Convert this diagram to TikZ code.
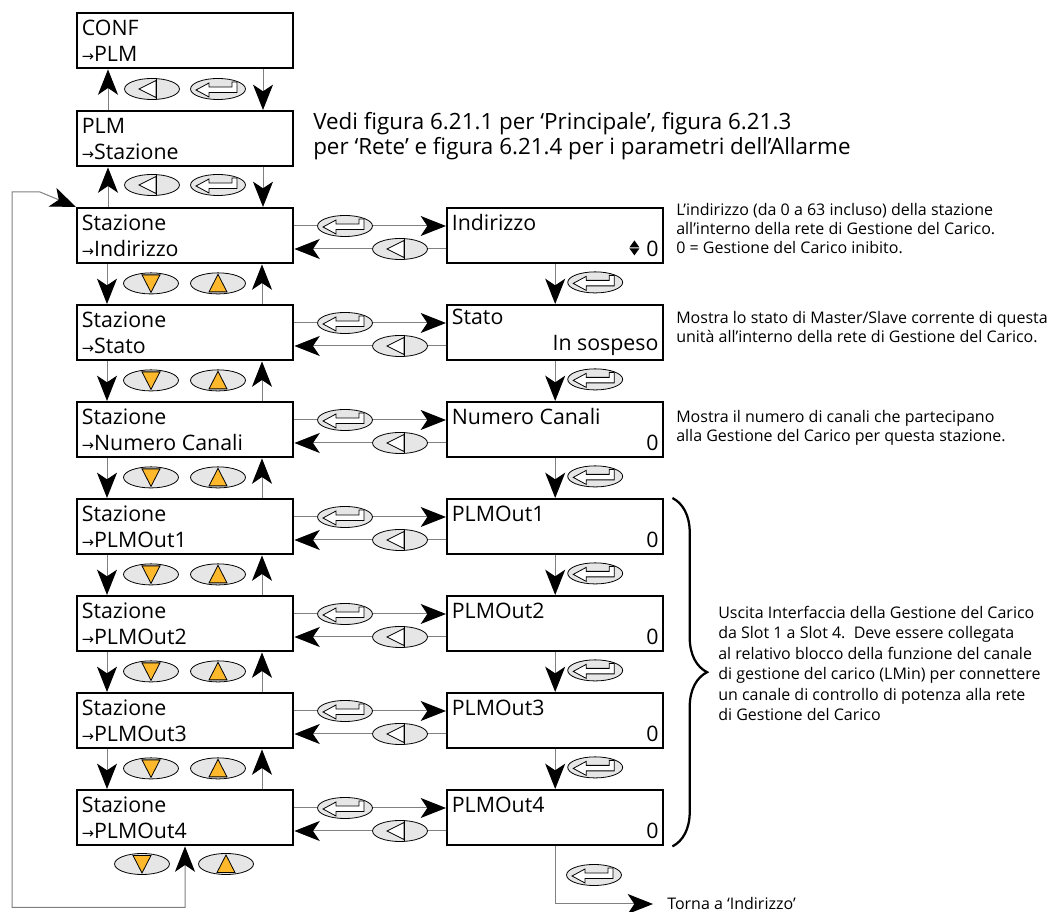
\documentclass[tikz,border=0pt]{standalone}
\usepackage{fontspec}
\setmainfont{Open Sans}
\newfontfamily\arrowfont{DejaVu Sans}
\usetikzlibrary{positioning, arrows.meta, calc, decorations.pathreplacing}
\definecolor{tasto}{HTML}{E6E6E6}
\definecolor{giallo}{HTML}{FDB92B}
\definecolor{linea}{HTML}{808080}
\newcommand{\freccia}{{\arrowfont\fontsize{11}{12}\selectfont →}}

\tikzset{
  schermo/.style={draw, line width=1.8pt, anchor=north west, minimum height=41.25pt,
    text width=155pt, inner xsep=3.5pt, inner ysep=0pt, align=flush left,
    font=\fontsize{16}{19.5}\selectfont},
  collegamento/.style={draw=linea, line width=0.75pt},
  punta/.style={-{Stealth[length=19pt, width=15pt, inset=5pt, color=black]}},
  nota/.style={anchor=base west, inner sep=0pt, align=left,
    font=\fontsize{12}{14.6}\selectfont},
  graffa/.style={decorate, decoration={brace, amplitude=26pt}, line width=1.7pt},
  invio/.pic={
    \draw[fill=tasto, line width=0.6pt] (0,0) ellipse (20.6pt and 7.9pt);
    \draw[fill=white, line width=0.6pt] (-22,1) -- (-9,-6) -- (-9,-2) -- (14,-2)
      -- (14,-7) -- (19,-7) -- (19,3.5) -- (-9,3.5) -- (-9,8) -- cycle;
  },
  indietro/.pic={
    \draw[fill=tasto, line width=0.6pt] (0,0) ellipse (20.6pt and 7.9pt);
    \draw[fill=white, line width=0.6pt] (-13,0) -- (4,-8.5) -- (4,8.5) -- cycle;
    \draw[line width=0.6pt] (4,-10.2) -- (4,10.2);
  },
  giu/.pic={
    \draw[fill=tasto, line width=0.6pt] (0,0) ellipse (20.6pt and 7.9pt);
    \draw[fill=giallo, line width=0.6pt] (-9,-8.5) -- (9,-8.5) -- (0,9) -- cycle;
  },
  su/.pic={
    \draw[fill=tasto, line width=0.6pt] (0,0) ellipse (20.6pt and 7.9pt);
    \draw[fill=giallo, line width=0.6pt] (0,-9) -- (9,8.5) -- (-9,8.5) -- cycle;
  },
}

\begin{document}
\begin{tikzpicture}[x=0.75pt, y=-0.75pt]
\useasboundingbox (0,0) rectangle (1058,912);

\node[schermo] (conf) at (76,12) {CONF\\\freccia PLM};
\node[schermo] (plm) at (76,110) {PLM\\\freccia Stazione};
\node[anchor=base west, inner sep=0pt, align=left, font=\fontsize{16.8}{18.75}\selectfont]
  (vedi) at (313,155) {Vedi figura 6.21.1 per ‘Principale’, figura 6.21.3\\per ‘Rete’ e figura 6.21.4 per i parametri dell’Allarme};

\foreach \voce/\valore [count=\i] in {Indirizzo/0, Stato/In sospeso, Numero Canali/0,
    PLMOut1/0, PLMOut2/0, PLMOut3/0, PLMOut4/0}{
  \pgfmathsetmacro{\riga}{207+97*(\i-1)}
  \node[schermo] (s\i) at (76,\riga) {Stazione\\\freccia\voce};
  \node[schermo] (r\i) at (446,\riga) {\voce\\\mbox{}\hfill\valore\hspace*{3pt}};
  \draw[collegamento, punta] ($(s\i.north east)+(0,19)$) -- ($(r\i.north west)+(0,19)$);
  \draw[collegamento, punta] ($(r\i.north west)+(0,42)$) -- ($(s\i.north east)+(0,42)$);
  \pic at (345,\riga+19) {invio};
  \pic at (400,\riga+42) {indietro};
}

\foreach \i in {1,...,6}{
  \pgfmathtruncatemacro{\nxt}{\i+1}
  \draw[collegamento, punta] ($(s\i.south west)+(31,0)$) -- ($(s\nxt.north west)+(31,0)$);
  \draw[collegamento, punta] ($(s\nxt.north west)+(186,0)$) -- ($(s\i.south west)+(186,0)$);
  \draw[collegamento, punta] (r\i.south) -- (r\nxt.north);
  \pic at ($(s\i.south west)+(75,19)$) {giu};
  \pic at ($(s\i.south west)+(142,19)$) {su};
  \pic at ($(r\i.south)+(40,18)$) {invio};
}

% menu in alto
\draw[collegamento, punta] ($(plm.north west)+(32,0)$) -- ($(conf.south west)+(32,0)$);
\draw[collegamento, punta] ($(conf.south west)+(187,0)$) -- ($(plm.north west)+(187,0)$);
\pic at (152,89) {indietro};
\pic at (218,89) {invio};
\draw[collegamento, punta] ($(s1.north west)+(32,0)$) -- ($(plm.south west)+(32,0)$);
\draw[collegamento, punta] ($(plm.south west)+(187,0)$) -- ($(s1.north west)+(187,0)$);
\pic at (152,185) {indietro};
\pic at (218,185) {invio};

% simbolo su/giu
\fill ($(r1.south east)+(-35,-17)$) -- ($(r1.south east)+(-25,-17)$) -- ($(r1.south east)+(-30,-24)$) -- cycle;
\fill ($(r1.south east)+(-35,-16)$) -- ($(r1.south east)+(-25,-16)$) -- ($(r1.south east)+(-30,-9)$) -- cycle;

% ritorno
\pic at (142,864) {giu};
\pic at (226,864) {su};
\draw[collegamento, {Stealth[length=19pt, width=15pt, inset=5pt, color=black]}-{Stealth[length=19pt, width=15pt, inset=5pt, color=black]}]
  ($(s7.south west)+(109,0)$) -- ++(0,61) -| (12,192) -- (40,192) -- (s1.north west);
\coordinate (ritorno) at (653,904);
\draw[collegamento, punta] (r7.south) |- (ritorno);
\pic at (594,875) {invio};
\node[nota] (torna) at (667,910) {Torna a ‘Indirizzo’};

\draw[graffa] ($(r4.north east)+(8,0)$) -- ($(r7.south east)+(8,0)$);

\node[nota] (nota1) at (676,254) {L’indirizzo (da 0 a 63 incluso) della stazione\\all’interno della rete di Gestione del Carico.\\0 = Gestione del Carico inibito.};
\node[nota] (nota2) at (676,343) {Mostra lo stato di Master/Slave corrente di questa\\unità all’interno della rete di Gestione del Carico.};
\node[nota] (nota3) at (676,442) {Mostra il numero di canali che partecipano\\alla Gestione del Carico per questa stazione.};
\node[nota, font=\fontsize{12}{15.4}\selectfont] (nota4) at (718,721) {Uscita Interfaccia della Gestione del Carico\\da Slot 1 a Slot 4.\ \ Deve essere collegata\\al relativo blocco della funzione del canale\\di gestione del carico (LMin) per connettere\\un canale di controllo di potenza alla rete\\di Gestione del Carico};
\end{tikzpicture}
\end{document}
